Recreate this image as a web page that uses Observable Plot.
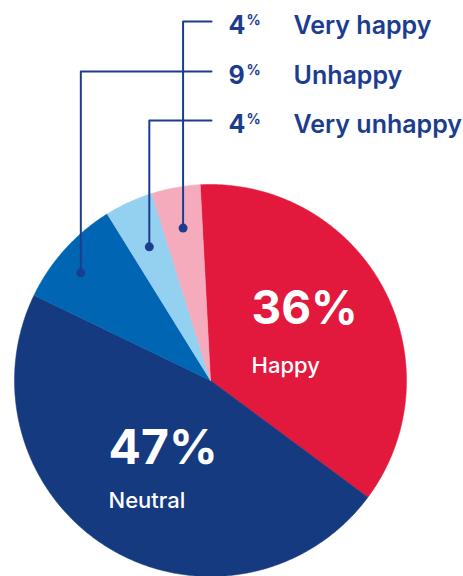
<!DOCTYPE html>
<html><head><meta charset="utf-8">
<script src="https://cdn.jsdelivr.net/npm/d3@7"></script>
<script src="https://cdn.jsdelivr.net/npm/@observablehq/plot@0.6"></script>
<style>body{margin:0;background:#fff} svg{display:block}</style>
</head><body><div id="chart"></div>
<script>
// ---- data ----
const categories = ["Happy", "Neutral", "Unhappy", "Very unhappy", "Very happy"];
const values = [36, 47, 9, 4, 4];
const colors = ["#e2183d", "#163a80", "#0066b3", "#94d0f0", "#f5abbb"];
const leaderCategories = ["Very happy", "Unhappy", "Very unhappy"];
const insideCategories = ["Happy", "Neutral"];

// ---- layout ----
const W = 463, H = 576, CX = 210, CY = 380, R = 196;
const px = p => (p - CX) / R, py = p => (CY - p) / R;
const ink = "#1c3d8f";
const leaderR = {"Very happy": 0.79, "Unhappy": 0.86, "Very unhappy": 0.75};
const rowY = [21, 71, 120];
const insidePos = {"Happy": [251, 323, 372], "Neutral": [108, 463, 507]};
const insideSize = {"Happy": 46, "Neutral": 48};

const arcs = d3.pie().sort(null).startAngle(-3 * Math.PI / 180)(values);
const slices = [];
arcs.forEach((a, i) => {
  const k = categories[i];
  const n = Math.max(2, Math.ceil((a.endAngle - a.startAngle) / (Math.PI / 360)));
  slices.push({k, x: 0, y: 0});
  for (let j = 0; j <= n; j++) {
    const t = a.startAngle + (a.endAngle - a.startAngle) * j / n;
    slices.push({k, x: Math.sin(t), y: Math.cos(t)});
  }
  slices.push({k, x: 0, y: 0});
});

const leaderPts = [], dots = [], rowText = [];
leaderCategories.forEach((k, r) => {
  const i = categories.indexOf(k);
  const a = arcs[i];
  const m = (a.startAngle + a.endAngle) / 2 - (k === "Unhappy" ? 0.04 : 0);
  const dx = Math.sin(m) * leaderR[k], dy = Math.cos(m) * leaderR[k];
  const ly = py(rowY[r]);
  leaderPts.push({k, x: dx, y: dy}, {k, x: dx, y: ly}, {k, x: px(211), y: ly});
  dots.push({x: dx, y: dy});
  rowText.push({k, v: String(values[i]), y: py(rowY[r] + 12), yp: py(rowY[r] + 3)});
});

const inside = insideCategories.map(k => {
  const i = categories.indexOf(k);
  const p = insidePos[k];
  return {k, v: values[i] + "%", x: px(p[0]), y: py(p[1]), y2: py(p[2]), size: insideSize[k]};
});

const chart = Plot.plot({
  width: W, height: H, margin: 0,
  x: {domain: [-1, 1], range: [CX - R, CX + R], axis: null},
  y: {domain: [-1, 1], range: [CY + R, CY - R], axis: null},
  color: {domain: categories, range: colors},
  style: {fontFamily: "Inter, 'Noto Sans', sans-serif", background: "#fff"},
  marks: [
    Plot.line(slices, {x: "x", y: "y", z: "k", fill: "k", stroke: "k", strokeWidth: 0.5}),
    Plot.line(leaderPts, {x: "x", y: "y", z: "k", stroke: ink, strokeWidth: 2}),
    Plot.dot(dots, {x: "x", y: "y", r: 4.5, fill: ink}),
    Plot.text(rowText, {x: px(228), y: "y", text: "v", textAnchor: "start", lineAnchor: "bottom", fontSize: 25, fontWeight: 700, fill: ink}),
    Plot.text(rowText, {x: px(246), y: "yp", text: () => "%", textAnchor: "start", lineAnchor: "bottom", fontSize: 14, fontWeight: 700, fill: ink}),
    Plot.text(rowText, {x: px(293), y: "y", text: "k", textAnchor: "start", lineAnchor: "bottom", fontSize: 25, fontWeight: 600, fill: ink}),
    ...inside.map(d => Plot.text([d], {x: "x", y: "y", text: "v", textAnchor: "start", lineAnchor: "bottom", fontSize: d.size, fontWeight: 700, fill: "white"})),
    Plot.text(inside, {x: "x", y: "y2", text: "k", textAnchor: "start", lineAnchor: "bottom", fontSize: 22, fontWeight: 500, fill: "white"})
  ]
});
document.getElementById("chart").append(chart);
</script>
</body></html>
